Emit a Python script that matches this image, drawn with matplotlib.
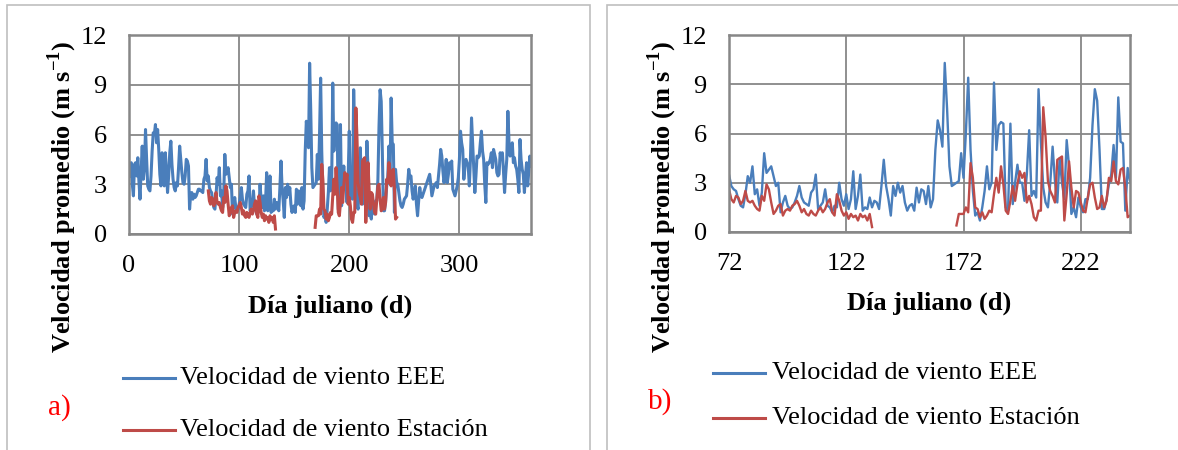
import numpy as np
import matplotlib.pyplot as plt
from matplotlib.lines import Line2D
from matplotlib.patches import Rectangle

plt.rcParams['font.family'] = ['Liberation Serif', 'DejaVu Serif']
plt.rcParams['mathtext.fontset'] = 'custom'
plt.rcParams['mathtext.rm'] = 'Liberation Serif'
plt.rcParams['mathtext.bf'] = 'Liberation Serif:bold'

# velocidad de viento EEE, dias 1..365
dias_eee = np.arange(1, 366)
vel_eee = [
    3.5, 4.3, 3.0, 2.3, 4.2, 4.3, 3.5, 4.6, 3.2, 2.1,
    3.8, 5.3, 3.3, 4.0, 6.3, 4.5, 2.9, 2.7, 2.6, 3.5,
    5.0, 6.1, 6.0, 6.6, 5.5, 6.3, 5.1, 3.6, 2.9, 4.9,
    4.0, 2.9, 4.9, 3.8, 2.5, 3.5, 4.9, 5.6, 4.2, 3.3,
    2.8, 2.6, 3.1, 2.9, 4.0, 5.3, 4.5, 3.7, 3.1, 3.0,
    3.5, 4.5, 4.4, 4.1, 1.5, 2.4, 2.5, 2.1, 2.4, 2.2,
    2.3, 2.5, 2.7, 2.7, 2.6, 2.6, 2.5, 3.3, 3.5, 4.5,
    3.2, 3.5, 2.8, 2.6, 2.5, 2.0, 1.6, 1.5, 2.3, 3.4,
    3.0, 4.0, 2.3, 2.6, 1.6, 2.4, 4.8, 3.6, 3.8, 4.0,
    3.4, 2.8, 3.0, 1.2, 1.8, 2.2, 1.6, 1.4, 1.5, 1.8,
    2.2, 2.8, 2.1, 1.8, 1.7, 1.6, 2.4, 2.6, 3.5, 1.4,
    1.6, 1.8, 2.6, 1.6, 1.5, 1.2, 1.6, 1.5, 3.0, 2.0,
    1.6, 2.3, 1.4, 2.0, 3.7, 1.4, 2.2, 3.5, 1.3, 1.5,
    1.4, 2.1, 1.5, 1.9, 1.8, 1.4, 2.8, 4.4, 2.8, 2.0,
    1.0, 2.8, 2.2, 3.0, 2.4, 2.8, 1.8, 1.3, 1.6, 1.7,
    1.3, 2.7, 1.8, 2.6, 2.5, 1.7, 2.8, 1.5, 2.0, 5.0,
    6.8, 6.2, 5.2, 10.3, 7.5, 4.0, 2.8, 2.9, 3.0, 3.1,
    4.8, 3.3, 6.0, 9.4, 5.0, 2.5, 1.0, 1.2, 0.7, 1.5,
    2.5, 4.0, 2.6, 3.0, 9.1, 5.0, 6.5, 6.7, 6.6, 1.5,
    1.3, 6.6, 1.7, 3.0, 4.1, 3.0, 3.0, 1.9, 3.5, 6.2,
    2.2, 2.5, 2.1, 8.7, 5.5, 2.7, 1.8, 1.5, 3.0, 5.2,
    3.1, 1.8, 4.5, 3.0, 2.0, 5.6, 4.0, 1.1, 1.5, 0.9,
    2.1, 1.5, 1.2, 2.0, 2.0, 3.3, 6.5, 8.7, 8.0, 5.0,
    1.4, 1.4, 2.0, 2.9, 3.5, 5.3, 3.3, 8.2, 5.5, 5.4,
    1.3, 3.9, 3.1, 3.0, 2.5, 2.0, 1.7, 1.6, 1.8, 2.1,
    2.2, 2.3, 3.0, 3.9, 3.4, 3.5, 2.6, 2.1, 2.5, 2.9,
    1.8, 1.1, 2.0, 2.8, 2.3, 2.2, 2.4, 2.6, 2.8, 3.0,
    3.2, 3.4, 3.6, 3.0, 2.3, 2.6, 2.9, 3.0, 3.1, 2.8,
    3.5, 4.2, 5.1, 4.7, 3.8, 3.1, 3.6, 4.5, 3.1, 3.6,
    4.3, 4.0, 4.4, 2.7, 2.5, 2.3, 2.6, 2.9, 3.4, 4.5,
    6.2, 5.5, 5.1, 3.3, 4.0, 4.5, 4.3, 4.1, 2.9, 4.5,
    7.0, 5.5, 4.1, 2.5, 3.5, 4.7, 4.6, 4.7, 5.5, 6.2,
    5.0, 4.5, 3.0, 1.9, 4.3, 4.2, 4.3, 4.5, 4.9, 4.0,
    5.1, 4.8, 4.5, 3.7, 3.5, 3.6, 4.9, 4.6, 4.9, 3.8,
    2.5, 3.6, 4.5, 7.4, 5.6, 4.7, 5.0, 5.5, 4.3, 4.6,
    4.1, 3.9, 3.3, 2.5, 5.7, 4.5, 3.9, 3.6, 2.5, 3.5,
    4.3, 2.9, 3.8, 4.7, 4.1,
]

# velocidad de viento de la estacion (dos tramos, hay un hueco)
dias_est1 = np.arange(72, 134)
vel_est1 = [
    2.6, 2.0, 1.8, 2.2, 2.1, 1.7, 1.9, 2.5, 1.9, 1.8,
    1.9, 1.6, 1.4, 1.3, 2.2, 1.9, 2.9, 2.6, 1.8, 1.1,
    1.3, 1.6, 1.7, 1.0, 1.3, 1.4, 1.3, 1.6, 1.7, 1.9,
    1.6, 1.2, 1.4, 1.1, 1.0, 1.3, 1.1, 1.0, 1.3, 1.5,
    1.2, 1.4, 1.8, 2.0, 1.2, 1.0, 2.3, 1.9, 1.3, 1.0,
    1.2, 0.8, 1.1, 0.9, 1.0, 0.7, 1.1, 0.9, 1.0, 0.7,
    1.1, 0.3,
]
dias_est2 = np.arange(169, 244)
vel_est2 = [
    0.4, 1.1, 1.1, 1.1, 1.5, 1.2, 4.2, 3.3, 1.5, 1.4,
    0.9, 1.2, 0.8, 1.0, 1.3, 1.2, 2.3, 3.3, 2.4, 4.0,
    2.9, 1.3, 1.1, 1.9, 2.8, 1.9, 2.9, 3.7, 3.3, 3.6,
    1.8, 2.2, 1.7, 0.9, 0.7, 1.3, 1.3, 7.6, 5.8, 3.1,
    2.5, 2.2, 1.8, 4.4, 4.5, 4.6, 0.7, 2.3, 4.3, 2.7,
    1.5, 2.5, 2.4, 1.8, 1.3, 1.2, 2.1, 2.9, 3.0, 2.1,
    1.4, 1.5, 2.2, 1.5, 1.9, 3.3, 3.1, 4.3, 3.1, 2.9,
    3.8, 3.9, 2.7, 0.9, 1.0,
]

AZUL = '#4A7EBB'
ROJO = '#BE4B48'
GRIS = '#878787'

W, H = 1178, 450
fig = plt.figure(figsize=(W / 100, H / 100), dpi=100)


def fx(px):
    return px / W


def fy(py):
    return 1 - py / H


def panel(x0, x1, y0, y1, xlim, xticks, lw, ylab_x, ylab_y, xlab_y):
    ax = fig.add_axes([fx(x0), fy(y1), fx(x1 - x0), (y1 - y0) / H])
    ax.plot(dias_eee, vel_eee, color=AZUL, lw=lw, solid_joinstyle='round')
    ax.plot(dias_est1, vel_est1, color=ROJO, lw=lw, solid_joinstyle='round')
    ax.plot(dias_est2, vel_est2, color=ROJO, lw=lw, solid_joinstyle='round')
    ax.set_xlim(*xlim)
    ax.set_ylim(0, 12)
    ax.set_xticks(xticks)
    ax.set_yticks([0, 3, 6, 9, 12])
    ax.grid(True, color=GRIS, lw=1.3)
    ax.set_axisbelow(True)
    for s in ax.spines.values():
        s.set_color(GRIS)
        s.set_linewidth(1.8)
    ax.tick_params(length=0, labelsize=19)
    ax.tick_params(axis='x', pad=15)
    ax.tick_params(axis='y', pad=16)
    ax.set_xlabel('Día juliano (d)', fontsize=19, fontweight='bold', va='center')
    ax.set_ylabel(r'Velocidad promedio (m s$^{\mathbf{-1}}$)', fontsize=19,
                  fontweight='bold', va='center')
    # las etiquetas de los ejes van en pixeles de la figura
    ax.xaxis.set_label_coords((x0 + x1) / 2 / W, fy(xlab_y), transform=fig.transFigure)
    ax.yaxis.set_label_coords(fx(ylab_x), fy(ylab_y), transform=fig.transFigure)
    return ax


panel(129, 531, 35, 234, (0, 365), [0, 100, 200, 300], 2.2, 62, 197, 306)
panel(729, 1130, 35, 232, (72, 243), [72, 122, 172, 222], 1.7, 662, 197, 303)

# marcos de cada figura
fig.add_artist(Rectangle((fx(7), fy(470)), fx(583), (465) / H,
                         transform=fig.transFigure, fill=False,
                         edgecolor='#BFBFBF', lw=1.2))
fig.add_artist(Rectangle((fx(607), fy(470)), fx(600), (465) / H,
                         transform=fig.transFigure, fill=False,
                         edgecolor='#BFBFBF', lw=1.2))


# leyendas
def leyenda(xl, xt, ys, letra, xletra, yletra):
    etiquetas = ['Velocidad de viento EEE', 'Velocidad de viento Estación']
    for y, col, txt in zip(ys, [AZUL, ROJO], etiquetas):
        fig.add_artist(Line2D([fx(xl), fx(xl + 52)], [fy(y), fy(y)],
                              transform=fig.transFigure, color=col, lw=2.2))
        fig.text(fx(xt), fy(y), txt, fontsize=19, va='center', ha='left')
    fig.text(fx(xletra), fy(yletra), letra, fontsize=21, color='red',
             va='center', ha='left')


leyenda(123, 180, [378, 430], 'a)', 48, 408)
leyenda(713, 772, [373, 418], 'b)', 648, 402)

plt.savefig('out.png', dpi=100)
